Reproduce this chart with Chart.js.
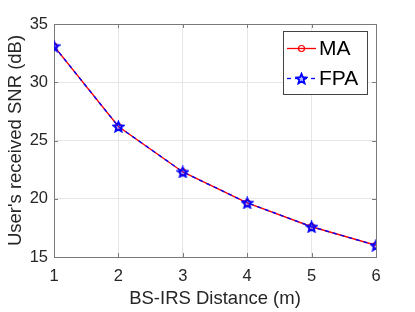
<!DOCTYPE html>
<html><head><meta charset="utf-8">
<script src="https://cdn.jsdelivr.net/npm/chart.js@4/dist/chart.umd.min.js"></script>
<style>html,body{margin:0;padding:0;background:#fff}#wrap{width:415px;height:312px;position:relative}</style>
</head><body><div id="wrap"><canvas id="c" width="415" height="312"></canvas></div>
<script>
const distances = [1, 2, 3, 4, 5, 6];
const maSNR = [33.1, 26.2, 22.3, 19.65, 17.6, 16.0];
const fpaSNR = [33.1, 26.2, 22.3, 19.65, 17.6, 16.0];
const xTicks = [1, 2, 3, 4, 5, 6];
const yTicks = [15, 20, 25, 30, 35];
const seriesNames = ['MA', 'FPA'];
const xTitle = 'BS-IRS Distance (m)';
const yTitle = "User's received SNR (dB)";

const FONT = "'Liberation Sans', Arial, Helvetica, sans-serif";
const AXIS_COLOR = '#7a7a7a';
const TEXT_COLOR = '#262626';

function makeStar(size, color) {
  const c = document.createElement('canvas');
  c.width = size; c.height = size;
  const g = c.getContext('2d');
  const cx = size / 2, cy = size / 2 + 0.6;
  const R = size / 2 - 1.2, r = R * 0.45;
  g.beginPath();
  for (let i = 0; i < 10; i++) {
    const a = -Math.PI / 2 + i * Math.PI / 5;
    const rad = i % 2 ? r : R;
    g.lineTo(cx + rad * Math.cos(a), cy + rad * Math.sin(a));
  }
  g.closePath();
  g.fillStyle = 'rgba(40,40,255,0.35)'; g.fill();
  g.strokeStyle = color; g.lineWidth = 1.8; g.stroke();
  return c;
}
const starImg = makeStar(13, '#0000ff');

const toXY = (xs, ys) => xs.map((x, i) => ({x, y: ys[i]}));

const framePlugin = {
  id: 'frame',
  beforeDatasetsDraw(chart) {
    const {ctx, chartArea: a, scales: {x, y}} = chart;
    ctx.save();
    ctx.strokeStyle = AXIS_COLOR;
    ctx.lineWidth = 1;
    ctx.strokeRect(Math.round(a.left) + 0.5, Math.round(a.top) + 0.5,
      Math.round(a.right - a.left), Math.round(a.bottom - a.top));
    const tl = 4;
    ctx.beginPath();
    xTicks.forEach(v => {
      const px = Math.round(x.getPixelForValue(v)) + 0.5;
      ctx.moveTo(px, a.bottom); ctx.lineTo(px, a.bottom - tl);
      ctx.moveTo(px, a.top); ctx.lineTo(px, a.top + tl);
    });
    yTicks.forEach(v => {
      const py = Math.round(y.getPixelForValue(v)) + 0.5;
      ctx.moveTo(a.left, py); ctx.lineTo(a.left + tl, py);
      ctx.moveTo(a.right, py); ctx.lineTo(a.right - tl, py);
    });
    ctx.stroke();
    ctx.restore();
  }
};

const legendPlugin = {
  id: 'boxLegend',
  afterDraw(chart) {
    const ctx = chart.ctx;
    const bx = 283.5, by = 31.5, bw = 84, bh = 63;
    ctx.save();
    ctx.fillStyle = '#fff';
    ctx.fillRect(bx, by, bw, bh);
    ctx.strokeStyle = '#444';
    ctx.lineWidth = 1;
    ctx.strokeRect(bx, by, bw, bh);
    const rows = [by + 17, by + 47];
    const dsIdx = [0, 1];
    dsIdx.forEach((di, i) => {
      const ds = chart.data.datasets[di];
      const yy = rows[i];
      ctx.strokeStyle = ds.borderColor;
      ctx.lineWidth = 1.3;
      ctx.setLineDash(ds.borderDash || []);
      ctx.beginPath(); ctx.moveTo(287, yy); ctx.lineTo(316, yy); ctx.stroke();
      ctx.setLineDash([]);
      if (ds.label === seriesNames[0]) {
        ctx.beginPath(); ctx.arc(301.5, yy, 3, 0, Math.PI * 2);
        ctx.strokeStyle = ds.borderColor; ctx.lineWidth = 1.2; ctx.stroke();
      } else {
        ctx.drawImage(starImg, 301.5 - 6.5, yy - 6.5);
      }
      ctx.fillStyle = '#000';
      ctx.font = '21px ' + FONT;
      ctx.textBaseline = 'middle';
      ctx.textAlign = 'left';
      ctx.fillText(ds.label, 319, yy + 1);
    });
    ctx.restore();
  }
};

new Chart(document.getElementById('c'), {
  type: 'line',
  data: {
    datasets: [
      {
        label: seriesNames[0],
        data: toXY(distances, maSNR),
        borderColor: '#ff0000',
        backgroundColor: '#ffffff',
        borderWidth: 1.4,
        pointStyle: 'circle',
        pointRadius: 3,
        pointBorderWidth: 1.2,
        pointBackgroundColor: 'rgba(0,0,0,0)',
        tension: 0,
        order: 1
      },
      {
        label: seriesNames[1],
        data: toXY(distances, fpaSNR),
        borderColor: '#0000ff',
        backgroundColor: '#0000ff',
        borderWidth: 1.4,
        borderDash: [4, 4],
        pointStyle: starImg,
        pointRadius: 6,
        tension: 0,
        order: 0
      }
    ]
  },
  options: {
    responsive: false,
    animation: false,
    devicePixelRatio: 1,
    layout: {padding: {left: 0, right: 39, top: 24, bottom: 0}},
    plugins: {legend: {display: false}, tooltip: {enabled: false}},
    scales: {
      x: {
        type: 'linear', min: 1, max: 6,
        afterBuildTicks: s => { s.ticks = xTicks.map(v => ({value: v})); },
        afterFit: s => { s.height = 55; },
        grid: {color: '#e6e6e6', drawTicks: false, lineWidth: 1},
        border: {display: false},
        ticks: {color: TEXT_COLOR, font: {family: FONT, size: 16.5}, padding: 10, maxRotation: 0},
        title: {display: true, text: xTitle, color: TEXT_COLOR, font: {family: FONT, size: 18.5}, padding: 2}
      },
      y: {
        type: 'linear', min: 15, max: 35,
        afterBuildTicks: s => { s.ticks = yTicks.map(v => ({value: v})); },
        afterFit: s => { s.width = 54; },
        grid: {color: '#e6e6e6', drawTicks: false, lineWidth: 1},
        border: {display: false},
        ticks: {color: TEXT_COLOR, font: {family: FONT, size: 16.5}, padding: 6},
        title: {display: true, text: yTitle, color: TEXT_COLOR, font: {family: FONT, size: 18.5}, padding: 5}
      }
    }
  },
  plugins: [framePlugin, legendPlugin]
});
</script>
</body></html>
